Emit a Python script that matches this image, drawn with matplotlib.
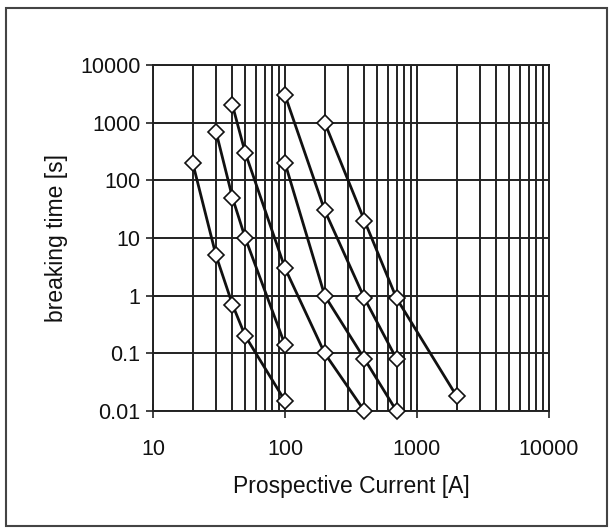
import matplotlib
matplotlib.use("Agg")
import matplotlib.pyplot as plt
from matplotlib.patches import Rectangle
from matplotlib.ticker import LogLocator, FixedLocator, NullFormatter

plt.rcParams['font.family'] = ['Liberation Sans', 'DejaVu Sans']

# Prospective current [A] and breaking time [s] for each curve
s1_x = [20, 30, 40, 50, 100]
s1_y = [200, 5, 0.7, 0.2, 0.015]
s2_x = [30, 40, 50, 100]
s2_y = [700, 50, 10, 0.14]
s3_x = [40, 50, 100, 200, 400]
s3_y = [2000, 300, 3, 0.1, 0.01]
s4_x = [100, 200, 400, 700]
s4_y = [200, 1, 0.08, 0.01]
s5_x = [100, 200, 400, 700]
s5_y = [3000, 30, 0.9, 0.08]
s6_x = [200, 400, 700, 2000]
s6_y = [1000, 20, 0.9, 0.018]

series = [(s1_x, s1_y), (s2_x, s2_y), (s3_x, s3_y),
          (s4_x, s4_y), (s5_x, s5_y), (s6_x, s6_y)]

x_ticks = [10, 100, 1000, 10000]
x_tick_labels = ["10", "100", "1000", "10000"]
y_ticks = [0.01, 0.1, 1, 10, 100, 1000, 10000]
y_tick_labels = ["0.01", "0.1", "1", "10", "100", "1000", "10000"]

W, H = 610, 528
fig = plt.figure(figsize=(W / 100, H / 100), dpi=100)
ax = fig.add_axes([153 / W, 1 - 411 / H, (549 - 153) / W, (411 - 65) / H])

ax.set_xscale('log')
ax.set_yscale('log')
ax.set_xlim(10, 10000)
ax.set_ylim(0.01, 10000)

ax.xaxis.set_major_locator(FixedLocator(x_ticks))
ax.set_xticklabels(x_tick_labels)
ax.xaxis.set_minor_locator(LogLocator(base=10, subs=range(2, 10)))
ax.xaxis.set_minor_formatter(NullFormatter())
ax.yaxis.set_major_locator(FixedLocator(y_ticks))
ax.set_yticklabels(y_tick_labels)
ax.yaxis.set_minor_locator(FixedLocator([]))

ax.grid(True, which='major', axis='both', color='#222222', linewidth=1.4)
ax.grid(True, which='minor', axis='x', color='#222222', linewidth=1.4)
ax.set_axisbelow(True)

for xs, ys in series:
    ax.plot(xs, ys, color='#111111', linewidth=2.0, marker='D',
            markersize=8, markerfacecolor='white', markeredgecolor='#111111',
            markeredgewidth=1.2, zorder=3, clip_on=False)

for sp in ax.spines.values():
    sp.set_color('#222222')
    sp.set_linewidth(1.4)

ax.tick_params(axis='both', which='major', direction='inout', length=10,
               width=1.2, colors='#222222', labelsize=15.5, labelcolor='#111111')
ax.tick_params(axis='x', which='major', pad=15)
ax.tick_params(axis='y', which='major', pad=4)
ax.tick_params(axis='x', which='minor', length=0)

ax.set_xlabel("Prospective Current [A]", fontsize=16.5, color='#111111', labelpad=11)
ax.set_ylabel("breaking time [s]", fontsize=16.5, color='#111111', labelpad=9)

fig.patches.append(Rectangle((6 / W, 1 - 526 / H), (607 - 6) / W, (526 - 8) / H,
                             transform=fig.transFigure, fill=False,
                             edgecolor='#444444', linewidth=1.5))

fig.savefig("out.png", dpi=100)
